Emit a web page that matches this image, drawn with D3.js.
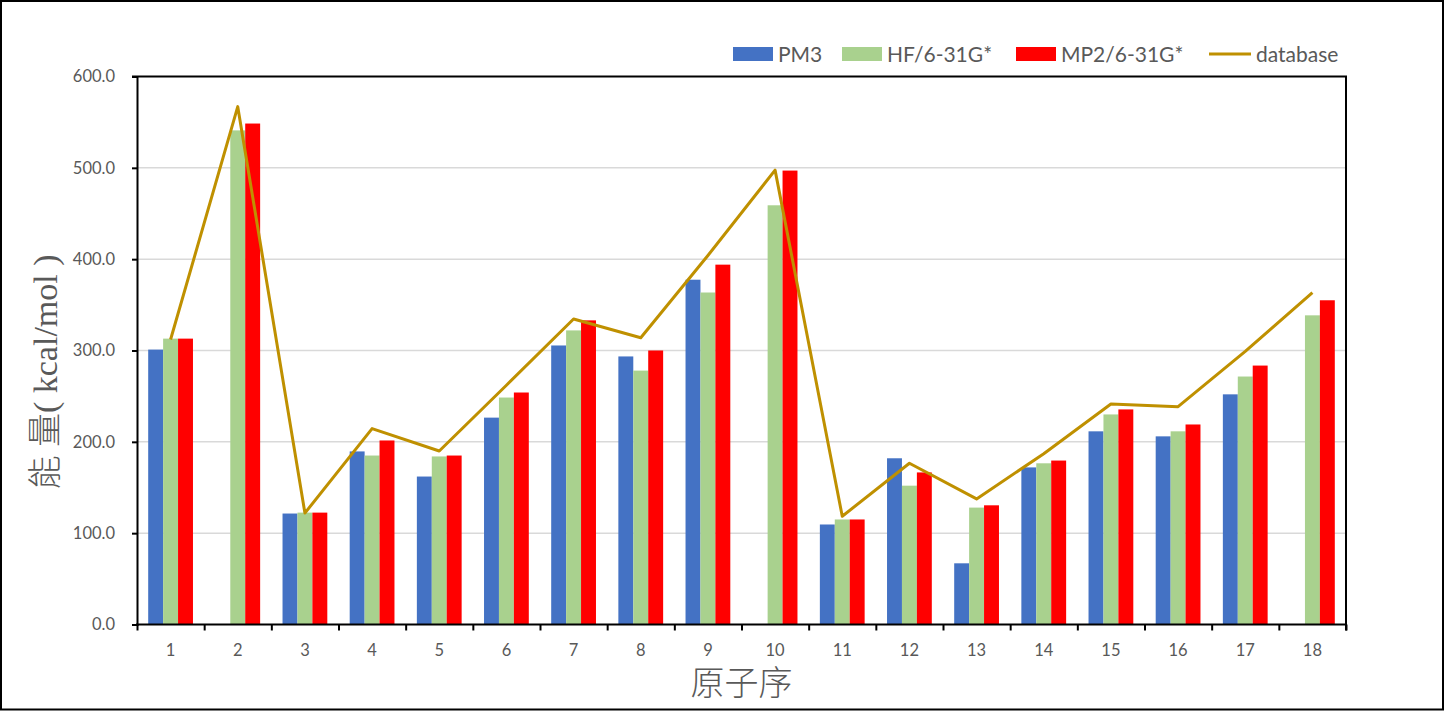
<!DOCTYPE html>
<html>
<head>
<meta charset="utf-8">
<script src="https://cdn.jsdelivr.net/npm/d3@7"></script>
<style>
  html, body { margin: 0; padding: 0; background: #fff; }
  svg { display: block; }
  .tick text { fill: #595959; }
</style>
</head>
<body>
<div id="chart"></div>
<script>
// atomic number 1..18
const categories = ["1","2","3","4","5","6","7","8","9","10","11","12","13","14","15","16","17","18"];
const seriesNames = ["PM3", "HF/6-31G*", "MP2/6-31G*"];
const pm3  = [301, null, 121.5, 189.5, 162, 226.5, 305.5, 293.5, 377.5, null, 109.5, 182, 67, 172, 211.5, 206, 252, null];
const hf   = [313, 541, 122.5, 185, 184, 248.5, 322, 278, 363.5, 459, 115, 152, 128, 176.5, 230, 211.5, 271.5, 338.5];
const mp2  = [313, 548.5, 122.5, 201.5, 185, 254, 333, 300, 394, 497, 115, 166.5, 130.5, 179.5, 235.5, 219, 283.5, 355];
const database = [312, 567, 122, 214.5, 190, 262, 334.5, 314, 404, 497.5, 118.5, 176.5, 137.5, 187, 241.5, 238.5, 299, 363.5];
const yTicks = [0, 100, 200, 300, 400, 500, 600];

const colors = ["#4472C4", "#A9D18E", "#FF0000"];
const lineColor = "#BF9000";
const textColor = "#595959";

const W = 1444, H = 711;
const plotLeft = 137, plotRight = 1346, plotTop = 76.5, plotBottom = 624.5;

const svg = d3.select("#chart").append("svg")
    .attr("width", W)
    .attr("height", H);

// outer border
svg.append("rect")
    .attr("x", 1).attr("y", 1)
    .attr("width", W - 2).attr("height", H - 2.5)
    .attr("fill", "#fff")
    .attr("stroke", "#000")
    .attr("stroke-width", 2);

const x0 = d3.scaleBand()
    .domain(categories)
    .range([plotLeft, plotRight])
    .paddingInner(1 / 3)
    .paddingOuter(1 / 6);

const x1 = d3.scaleBand()
    .domain(seriesNames)
    .range([0, x0.bandwidth()]);

const y = d3.scaleLinear()
    .domain([0, 600])
    .range([plotBottom, plotTop]);

// gridlines
svg.append("g")
    .selectAll("line")
    .data(yTicks.filter(t => t > 0 && t < 600))
    .join("line")
    .attr("x1", plotLeft).attr("x2", plotRight)
    .attr("y1", d => y(d)).attr("y2", d => y(d))
    .attr("stroke", "#D9D9D9")
    .attr("stroke-width", 1.5);

// bars
const seriesData = [pm3, hf, mp2];
const barRows = [];
seriesData.forEach((vals, s) => {
    vals.forEach((v, i) => {
        if (v != null) barRows.push({ cat: categories[i], name: seriesNames[s], value: v, s });
    });
});

svg.append("g")
    .selectAll("rect")
    .data(barRows)
    .join("rect")
    .attr("x", d => x0(d.cat) + x1(d.name))
    .attr("y", d => y(d.value))
    .attr("width", x1.bandwidth())
    .attr("height", d => y(0) - y(d.value))
    .attr("fill", d => colors[d.s]);

// database line
const line = d3.line()
    .x((d, i) => x0(categories[i]) + x0.bandwidth() / 2)
    .y(d => y(d));

svg.append("path")
    .datum(database)
    .attr("fill", "none")
    .attr("stroke", lineColor)
    .attr("stroke-width", 3)
    .attr("stroke-linejoin", "round")
    .attr("d", line);

// frame top and right
svg.append("line")
    .attr("x1", plotLeft - 5).attr("x2", plotRight + 1)
    .attr("y1", plotTop).attr("y2", plotTop)
    .attr("stroke", "#000").attr("stroke-width", 2);
svg.append("line")
    .attr("x1", plotRight).attr("x2", plotRight)
    .attr("y1", plotTop).attr("y2", plotBottom + 6)
    .attr("stroke", "#000").attr("stroke-width", 2);

// y axis
const yAxis = svg.append("g")
    .attr("transform", `translate(${plotLeft},0)`)
    .call(d3.axisLeft(y).tickValues(yTicks).tickFormat(d3.format(".1f")).tickSize(5).tickPadding(17));
yAxis.select(".domain").attr("stroke", "#000").attr("stroke-width", 2);
yAxis.selectAll(".tick line").attr("stroke", "#000").attr("stroke-width", 2);
yAxis.selectAll(".tick text")
    .attr("font-family", "Lato, 'Open Sans', sans-serif")
    .attr("font-size", 16.5)
    .attr("fill", textColor);

// x axis: labels at band centers, ticks at boundaries
const xLabels = svg.append("g")
    .attr("transform", `translate(0,${plotBottom})`)
    .call(d3.axisBottom(x0).tickSize(0).tickPadding(20));
xLabels.select(".domain").remove();
xLabels.selectAll(".tick text")
    .attr("font-family", "Lato, 'Open Sans', sans-serif")
    .attr("font-size", 16.5)
    .attr("fill", textColor);

const xEdges = d3.scaleLinear().domain([0, categories.length]).range([plotLeft, plotRight]);
const xTicks = svg.append("g")
    .attr("transform", `translate(0,${plotBottom})`)
    .call(d3.axisBottom(xEdges).ticks(categories.length).tickFormat("").tickSize(6).tickSizeOuter(6));
xTicks.select(".domain").attr("stroke", "#000").attr("stroke-width", 2)
    .attr("d", `M${plotLeft - 1},0H${plotRight + 1}`);
xTicks.selectAll(".tick line").attr("stroke", "#000").attr("stroke-width", 2);

// axis titles
svg.append("text")
    .attr("x", (plotLeft + plotRight) / 2)
    .attr("y", 695)
    .attr("text-anchor", "middle")
    .attr("font-family", "'Liberation Serif', 'Noto Sans CJK TC', serif")
    .attr("font-size", 34)
    .attr("font-weight", 300)
    .attr("fill", textColor)
    .text("原子序");

svg.append("text")
    .attr("transform", "translate(57,372) rotate(-90)")
    .attr("text-anchor", "middle")
    .attr("font-family", "'Liberation Serif', 'Noto Sans CJK TC', serif")
    .attr("font-size", 34)
    .attr("font-weight", 300)
    .attr("fill", textColor)
    .text("能 量( kcal/mol )");

// legend
const legendItems = [
    { name: seriesNames[0], type: "bar", color: colors[0], x: 733 },
    { name: seriesNames[1], type: "bar", color: colors[1], x: 842 },
    { name: seriesNames[2], type: "bar", color: colors[2], x: 1016 },
    { name: "database", type: "line", color: lineColor, x: 1209 }
];
const legend = svg.append("g");
legendItems.forEach(it => {
    const g = legend.append("g").attr("transform", `translate(${it.x},54)`);
    if (it.type === "bar") {
        g.append("rect").attr("x", 0).attr("y", -7).attr("width", 40).attr("height", 14).attr("fill", it.color);
    } else {
        g.append("line").attr("x1", 0).attr("x2", 42).attr("y1", 0).attr("y2", 0)
            .attr("stroke", it.color).attr("stroke-width", 3);
    }
    g.append("text")
        .attr("x", it.type === "bar" ? 45 : 47)
        .attr("y", 7.5)
        .attr("font-family", "Lato, 'Open Sans', sans-serif")
        .attr("font-size", 21)
        .attr("fill", textColor)
        .text(it.name);
});
</script>
</body>
</html>
